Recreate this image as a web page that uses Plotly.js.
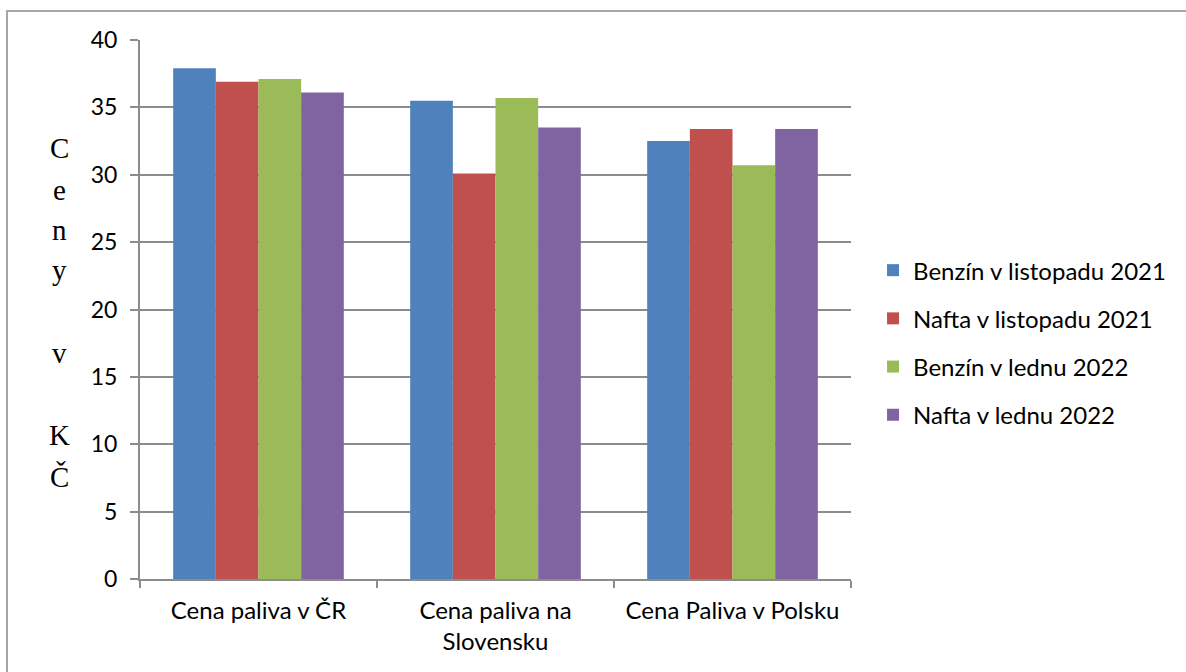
<!DOCTYPE html>
<html>
<head>
<meta charset="utf-8">
<script src="https://cdn.plot.ly/plotly-3.0.1.min.js"></script>
<style>
html,body{margin:0;padding:0;overflow:hidden;background:#fff;}
#wrap{position:relative;width:1186px;height:672px;}
#chart{width:1186px;height:672px;}
#frame{position:absolute;left:6px;top:10px;width:1200px;height:700px;border:2px solid #a6a6a6;box-sizing:border-box;pointer-events:none;}
</style>
</head>
<body>
<div id="wrap"><div id="chart"></div><div id="frame"></div></div>
<script>
const categories = ["Cena paliva v ČR", "Cena paliva na<br>Slovensku", "Cena Paliva v Polsku"];
const seriesNames = ["Benzín v listopadu 2021", "Nafta v listopadu 2021", "Benzín v lednu 2022", "Nafta v lednu 2022"];
const benzinListopad = [37.9, 35.5, 32.5];
const naftaListopad = [36.9, 30.1, 33.4];
const benzinLeden = [37.1, 35.7, 30.7];
const naftaLeden = [36.1, 33.5, 33.4];
const colors = ["#4F81BD", "#C0504D", "#9BBB59", "#8064A2"];
const yTitleLetters = ["C", "e", "n", "y", "v", "K", "Č"];
const yTitlePos = [32.0, 28.9, 25.9, 22.9, 16.8, 10.7, 7.6];

const values = [benzinListopad, naftaListopad, benzinLeden, naftaLeden];
const traces = values.map((v, i) => ({
  type: "bar",
  name: seriesNames[i],
  x: categories,
  y: v,
  legendgroup: "g" + i,
  marker: {color: colors[i], line: {width: 0}},
  hoverinfo: "x+y+name"
}));

const annotations = yTitleLetters.map((t, i) => ({
  text: t,
  xref: "paper", x: -0.113, xanchor: "center",
  yref: "y", y: yTitlePos[i], yanchor: "middle",
  showarrow: false,
  font: {family: "Liberation Serif, Times New Roman, serif", size: 29, color: "#000"}
}));

const layout = {
  width: 1186, height: 672,
  margin: {l: 140, r: 335, t: 40, b: 93},
  paper_bgcolor: "#fff", plot_bgcolor: "#fff",
  barmode: "group",
  bargap: 0.28,
  bargroupgap: 0,
  font: {family: "Lato, Open Sans, sans-serif", size: 23, color: "#000"},
  xaxis: {
    showline: true, linecolor: "#8c8c8c", linewidth: 2,
    ticks: "outside", ticklen: 7, tickwidth: 2, tickcolor: "#8c8c8c",
    tickson: "boundaries",
    showgrid: false,
    ticklabelstandoff: 9,
    tickfont: {family: "Lato, Open Sans, sans-serif", size: 24, color: "#000"}
  },
  yaxis: {
    range: [0, 40], dtick: 5,
    showline: true, linecolor: "#8c8c8c", linewidth: 2,
    ticks: "outside", ticklen: 8, tickwidth: 2, tickcolor: "#8c8c8c",
    showgrid: true, gridcolor: "#8c8c8c", gridwidth: 2,
    zeroline: false,
    ticklabelstandoff: 8,
    tickfont: {family: "Lato, Open Sans, sans-serif", size: 23, color: "#000"}
  },
  legend: {
    x: 1.031, xanchor: "left",
    y: 0.614, yanchor: "top",
    traceorder: "grouped",
    tracegroupgap: 14,
    font: {family: "Lato, Open Sans, sans-serif", size: 24, color: "#000"},
    bgcolor: "rgba(0,0,0,0)"
  },
  annotations: annotations,
  showlegend: true
};

Plotly.newPlot("chart", traces, layout, {displayModeBar: false, staticPlot: true});
</script>
</body>
</html>
